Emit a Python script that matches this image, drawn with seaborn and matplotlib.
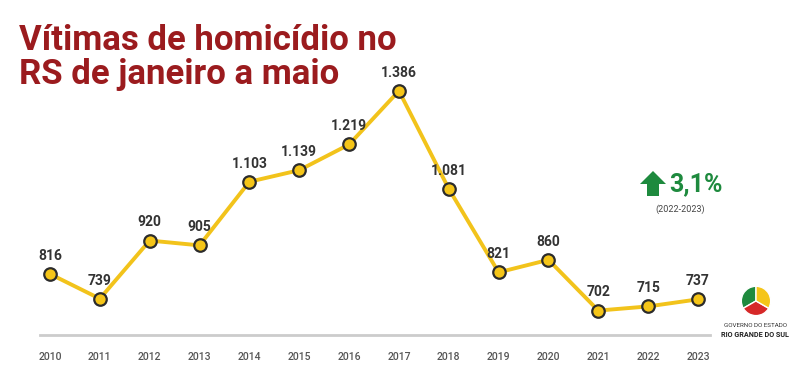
import pandas as pd
import numpy as np
import matplotlib.pyplot as plt
import seaborn as sns

# Vitimas de homicidio no RS, janeiro a maio
anos = [2010, 2011, 2012, 2013, 2014, 2015, 2016, 2017, 2018, 2019, 2020, 2021, 2022, 2023]
vitimas = [816, 739, 920, 905, 1103, 1139, 1219, 1386, 1081, 821, 860, 702, 715, 737]
rotulos = ['816', '739', '920', '905', '1.103', '1.139', '1.219', '1.386', '1.081', '821', '860', '702', '715', '737']

df = pd.DataFrame({'ano': anos, 'vitimas': vitimas})

sns.set_theme(style='white')
plt.rcParams['font.family'] = ['Roboto', 'DejaVu Sans']

W, H = 800, 367
fig = plt.figure(figsize=(8, 3.67), dpi=100)
ax = fig.add_axes([0.05, 0.0872, 0.8375, 0.7493])

sns.lineplot(data=df, x='ano', y='vitimas', ax=ax, color='#F2C31B', linewidth=2.8,
             marker='o', markersize=9, markerfacecolor='#F5C518',
             markeredgecolor='#2b2b2b', markeredgewidth=1.6)

for a, v, t in zip(anos, vitimas, rotulos):
    ax.annotate(t, (a, v), xytext=(0, 8), textcoords='offset points',
                ha='center', va='bottom', fontsize=10, fontweight='bold', color='#333333')

ax.set_xlim(2009.8, 2023.24)
ax.set_ylim(626, 1482)
ax.set_xticks(anos)
ax.set_xticklabels([str(a) for a in anos], fontsize=7.5, color='#555555', fontweight='medium')
ax.tick_params(axis='x', length=0, pad=12)
ax.set_yticks([])
ax.set_xlabel('')
ax.set_ylabel('')
for s in ['top', 'right', 'left']:
    ax.spines[s].set_visible(False)
ax.spines['bottom'].set_color('#cccccc')
ax.spines['bottom'].set_linewidth(2)

# titulo (duas linhas)
fig.text(0.024, 1 - 50 / H, 'Vítimas de homicídio no', ha='left', va='baseline',
         fontsize=25, fontweight='bold', color='#9B1B1E')
fig.text(0.024, 1 - 84 / H, 'RS de janeiro a maio', ha='left', va='baseline',
         fontsize=25, fontweight='bold', color='#9B1B1E')

# variacao (seta para cima)
seta_px = [(640, 184), (653, 171), (666, 184), (659, 184), (659, 196), (647, 196), (647, 184)]
seta = [(x / W, 1 - y / H) for x, y in seta_px]
fig.patches.append(plt.Polygon(seta, closed=True, transform=fig.transFigure,
                               facecolor='#1E8A3E', edgecolor='none'))
fig.text(0.836, 0.497, '3,1%', ha='left', va='center', fontsize=18, fontweight='bold', color='#1E8A3E')
fig.text(0.85, 0.43, '(2022-2023)', ha='center', va='center', fontsize=6.5, color='#444444')

# marca do governo
fig.text(0.944, 0.113, 'GOVERNO DO ESTADO', ha='center', va='center', fontsize=4.5, color='#333333')
fig.text(0.944, 0.088, 'RIO GRANDE DO SUL', ha='center', va='center', fontsize=5.2,
         fontweight='bold', color='#222222')
logo = fig.add_axes([0.92, 0.13, 0.05, 0.1])
logo.set_axis_off()
logo.pie([1, 1, 1], colors=['#1E8A3E', '#D62828', '#F5C518'], startangle=90)

fig.savefig('out.png', dpi=100, facecolor='white')
